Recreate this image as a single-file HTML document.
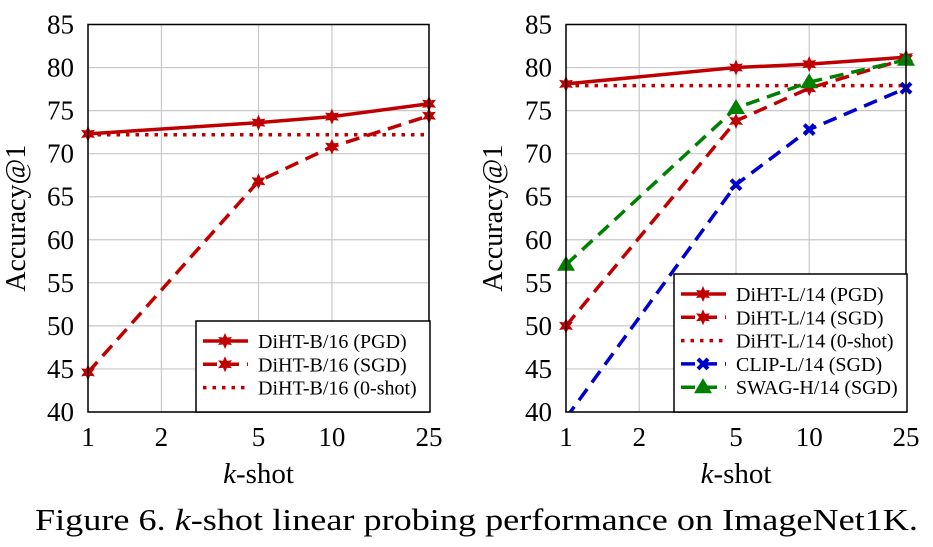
<!DOCTYPE html>
<html><head><meta charset="utf-8"><style>
body{margin:0;background:#fff;}
svg{display:block;font-family:"Liberation Serif",serif;}
</style></head><body>
<svg id="fig" width="933" height="547"></svg>
<script>
const kValues=[1,2,5,10,25];
const shots=[1,5,10,25];
const yTicks=[40,45,50,55,60,65,70,75,80,85];
const bPGD=[72.3,73.6,74.3,75.8];
const bSGD=[44.6,66.8,70.8,74.4];
const bZero=72.2;
const lPGD=[78.1,80.0,80.4,81.2];
const lSGD=[50.0,73.8,77.6,81.0];
const lZero=77.9;
const clipSGD=[39.3,66.4,72.8,77.6];
const swagSGD=[57.1,75.3,78.3,80.9];

const NS="http://www.w3.org/2000/svg";
const svg=document.getElementById('fig');
function mk(tag,attrs,parent){const e=document.createElementNS(NS,tag);for(const k in attrs)e.setAttribute(k,attrs[k]);(parent||svg).appendChild(e);return e;}
const RED="#c00000",BLUE="#0000cc",GREEN="#008000";
function starPath(x,y,r){let d="";for(let i=0;i<12;i++){const a=Math.PI/6*i-Math.PI/2;const rr=i%2?r*0.5:r;d+=(i?"L":"M")+(x+rr*Math.cos(a)).toFixed(2)+","+(y+rr*Math.sin(a)).toFixed(2);}return d+"Z";}
function marker(g,type,x,y,color){
  if(type==='star'){const m=mk('path',{d:starPath(x,y,8),fill:color},g);}
  else if(type==='x'){const m=mk('path',{d:`M${x-5},${y-5}L${x+5},${y+5}M${x-5},${y+5}L${x+5},${y-5}`,stroke:color,'stroke-width':4},g);}
  else if(type==='tri'){const m=mk('path',{d:`M${x},${y-9}L${x+9},${y+6}L${x-9},${y+6}Z`,fill:color},g);}
}
function chart(x0,x1,name,series,zero,legendBox,ytx){
  const y0=412,yTop=24.5;
  const xs=k=>x0+(x1-x0)*Math.log10(k)/Math.log10(25);
  const ys=v=>y0-(y0-yTop)*(v-40)/45;
  const g=mk('g',{});
  const clip=mk('clipPath',{id:name+'-clip'},g);mk('rect',{x:x0,y:yTop,width:x1-x0,height:y0-yTop},clip);
  yTicks.forEach(t=>{const l=mk('line',{x1:x0,x2:x1,y1:ys(t),y2:ys(t),stroke:'#c8c8c8','stroke-width':1.2},g);
    const tx=mk('text',{x:x0-14,y:ys(t)+9,'text-anchor':'end','font-size':27},g);tx.textContent=t;});
  kValues.forEach(k=>{const l=mk('line',{x1:xs(k),x2:xs(k),y1:yTop,y2:y0,stroke:'#c8c8c8','stroke-width':1.2},g);
    const tx=mk('text',{x:xs(k),y:446,'text-anchor':'middle','font-size':27},g);tx.textContent=k;});
  const pg=mk('g',{'clip-path':`url(#${name}-clip)`},g);
  const zl=mk('line',{x1:x0,x2:x1,y1:ys(zero),y2:ys(zero),stroke:RED,'stroke-width':3.5,'stroke-dasharray':'3.5 6'},pg);
  
  series.forEach(s=>{
    const pts=shots.map((k,i)=>xs(k)+','+ys(s.vals[i])).join(' ');
    const pl=mk('polyline',{points:pts,fill:'none',stroke:s.color,'stroke-width':3.5,'stroke-dasharray':s.dash||'none'},pg);
    
  });
  series.forEach(s=>shots.forEach((k,i)=>{if(s.vals[i]>=40)marker(g,s.marker,xs(k),ys(s.vals[i]),s.color);}));
  const fr=mk('rect',{x:x0,y:yTop,width:x1-x0,height:y0-yTop,fill:'none',stroke:'#000','stroke-width':1.5},g);
  
  const [lx,ly,lw,lh,entries]=legendBox;
  const lg=mk('g',{},g);
  mk('rect',{x:lx,y:ly,width:lw,height:lh,fill:'#fff',stroke:'#000','stroke-width':1.5},lg);
  entries.forEach((e,i)=>{const cy=ly+20+i*23.3;
    const eg=mk('g',{},lg);
    mk('line',{x1:lx+7,x2:lx+52,y1:cy,y2:cy,stroke:e.color,'stroke-width':3.5,'stroke-dasharray':e.dash||'none'},eg);
    if(e.marker)marker(eg,e.marker,lx+29,cy,e.color);
    const t=mk('text',{x:lx+62,y:cy+7,'font-size':20},eg);t.textContent=e.label;});
  const xt=mk('text',{x:(x0+x1)/2,y:483,'text-anchor':'middle','font-size':29},g);
  xt.innerHTML='<tspan font-style="italic">k</tspan>-shot';
  const yt=mk('text',{x:0,y:0,'text-anchor':'middle','font-size':28,transform:`translate(${ytx},${(yTop+y0)/2}) rotate(-90)`},g);
  yt.textContent='Accuracy@1';
}
const D='14 8';
chart(88,429,'left-chart',[
 {name:'diht-b16-pgd',vals:bPGD,color:RED,marker:'star'},
 {name:'diht-b16-sgd',vals:bSGD,color:RED,marker:'star',dash:D}],bZero,
 [196,321,234,91,[{label:'DiHT-B/16 (PGD)',color:RED,marker:'star'},{label:'DiHT-B/16 (SGD)',color:RED,marker:'star',dash:D},{label:'DiHT-B/16 (0-shot)',color:RED,dash:'3.5 6'}]],25);
chart(566,906,'right-chart',[
 {name:'diht-l14-pgd',vals:lPGD,color:RED,marker:'star'},
 {name:'diht-l14-sgd',vals:lSGD,color:RED,marker:'star',dash:D},
 {name:'clip-l14-sgd',vals:clipSGD,color:BLUE,marker:'x',dash:D},
 {name:'swag-h14-sgd',vals:swagSGD,color:GREEN,marker:'tri',dash:D}],lZero,
 [674,274,233,138,[{label:'DiHT-L/14 (PGD)',color:RED,marker:'star'},{label:'DiHT-L/14 (SGD)',color:RED,marker:'star',dash:D},{label:'DiHT-L/14 (0-shot)',color:RED,dash:'3.5 6'},{label:'CLIP-L/14 (SGD)',color:BLUE,marker:'x',dash:D},{label:'SWAG-H/14 (SGD)',color:GREEN,marker:'tri',dash:D}]],502);
const cap=mk('text',{x:35,y:530,'font-size':31,textLength:883,lengthAdjust:'spacingAndGlyphs'});
cap.innerHTML='Figure 6. <tspan font-style="italic">k</tspan>-shot linear probing performance on ImageNet1K.';

</script>
</body></html>
